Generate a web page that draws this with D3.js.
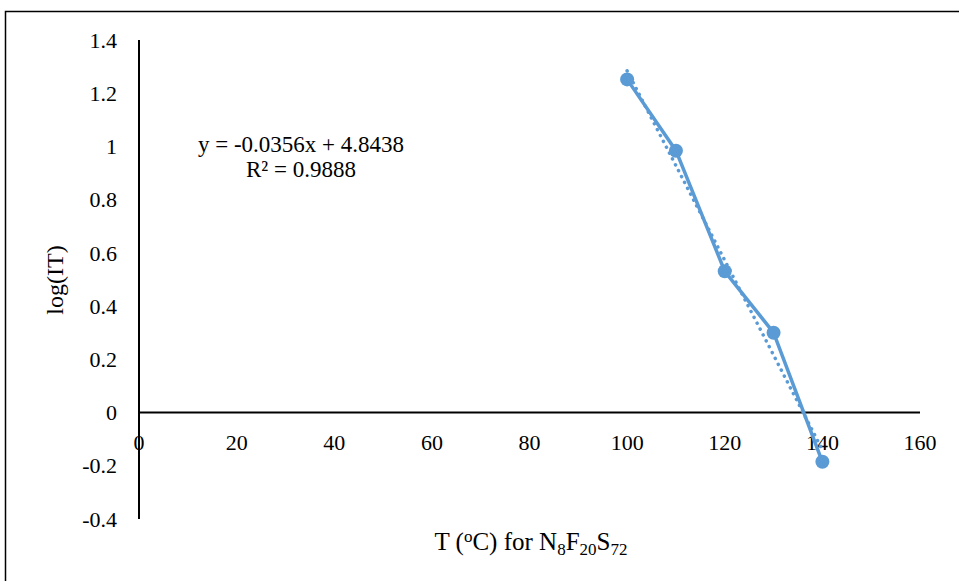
<!DOCTYPE html>
<html lang="en">
<head>
<meta charset="UTF-8">
<title>log(IT) vs T</title>
<script src="https://d3js.org/d3.v7.min.js"></script>
<style>
  body { margin: 0; background: #fff; }
  text { font-family: "Liberation Serif", "Times New Roman", serif; fill: #000; }
</style>
</head>
<body>
<div id="chart"></div>
<script>
// data
const temps = [100, 110, 120, 130, 140];
const logIT = [1.252, 0.984, 0.531, 0.300, -0.185];
const slope = -0.0356, intercept = 4.8438;
const xTicks = [0, 20, 40, 60, 80, 100, 120, 140, 160];
const yTicks = [-0.4, -0.2, 0, 0.2, 0.4, 0.6, 0.8, 1, 1.2, 1.4];

const W = 959, H = 581;
const svg = d3.select("#chart").append("svg")
  .attr("width", W).attr("height", H);

// outer frame (runs off the right and bottom edges)
svg.append("rect")
  .attr("x", 5.5).attr("y", 11.5)
  .attr("width", 1000).attr("height", 700)
  .attr("fill", "none").attr("stroke", "#000").attr("stroke-width", 1.5);

const x = d3.scaleLinear().domain([0, 160]).range([139, 920]);
const y = d3.scaleLinear().domain([-0.4, 1.4]).range([519, 40]);

// y axis line
svg.append("line")
  .attr("x1", x(0)).attr("x2", x(0))
  .attr("y1", y(1.4)).attr("y2", y(-0.4))
  .attr("stroke", "#000").attr("stroke-width", 2);
// x axis line at y = 0
svg.append("line")
  .attr("x1", x(0)).attr("x2", x(160))
  .attr("y1", y(0)).attr("y2", y(0))
  .attr("stroke", "#000").attr("stroke-width", 2);

// tick labels
svg.selectAll(".ylab").data(yTicks).join("text")
  .attr("class", "ylab")
  .attr("x", 117).attr("y", d => y(d))
  .attr("dy", "0.35em")
  .attr("text-anchor", "end")
  .attr("font-size", 22)
  .text(d => String(+d.toFixed(1)));

svg.selectAll(".xlab").data(xTicks).join("text")
  .attr("class", "xlab")
  .attr("x", d => x(d)).attr("y", y(0) + 37)
  .attr("text-anchor", "middle")
  .attr("font-size", 22)
  .text(d => d);

// trendline (dotted)
const fit = d3.line().x(d => x(d)).y(d => y(slope * d + intercept));
svg.append("path")
  .datum([100, 140])
  .attr("d", fit)
  .attr("fill", "none")
  .attr("stroke", "#5B9BD5")
  .attr("stroke-width", 3.5)
  .attr("stroke-dasharray", "0.1,6.5")
  .attr("stroke-linecap", "round");

// series line
const pts = temps.map((t, i) => [t, logIT[i]]);
svg.append("path")
  .datum(pts)
  .attr("d", d3.line().x(d => x(d[0])).y(d => y(d[1])))
  .attr("fill", "none")
  .attr("stroke", "#5B9BD5")
  .attr("stroke-width", 3.5);

svg.selectAll(".pt").data(pts).join("circle")
  .attr("class", "pt")
  .attr("cx", d => x(d[0])).attr("cy", d => y(d[1]))
  .attr("r", 7)
  .attr("fill", "#5B9BD5");

// equation label (two lines)
svg.append("text")
  .attr("x", 301).attr("y", 152)
  .attr("text-anchor", "middle")
  .attr("font-size", 23)
  .text("y = -0.0356x + 4.8438");
svg.append("text")
  .attr("x", 301).attr("y", 177)
  .attr("text-anchor", "middle")
  .attr("font-size", 23)
  .text("R² = 0.9888");

// axis titles
const xt = svg.append("text")
  .attr("x", 531).attr("y", 550)
  .attr("text-anchor", "middle")
  .attr("font-size", 25);
xt.append("tspan").text("T (");
xt.append("tspan").attr("font-size", 17).attr("dy", -8).text("o");
xt.append("tspan").attr("dy", 8).text("C) for N");
xt.append("tspan").attr("font-size", 17).attr("dy", 5).text("8");
xt.append("tspan").attr("dy", -5).text("F");
xt.append("tspan").attr("font-size", 17).attr("dy", 5).text("20");
xt.append("tspan").attr("dy", -5).text("S");
xt.append("tspan").attr("font-size", 17).attr("dy", 5).text("72");

svg.append("text")
  .attr("transform", "translate(63,280) rotate(-90)")
  .attr("text-anchor", "middle")
  .attr("font-size", 24)
  .text("log(IT)");
</script>
</body>
</html>
